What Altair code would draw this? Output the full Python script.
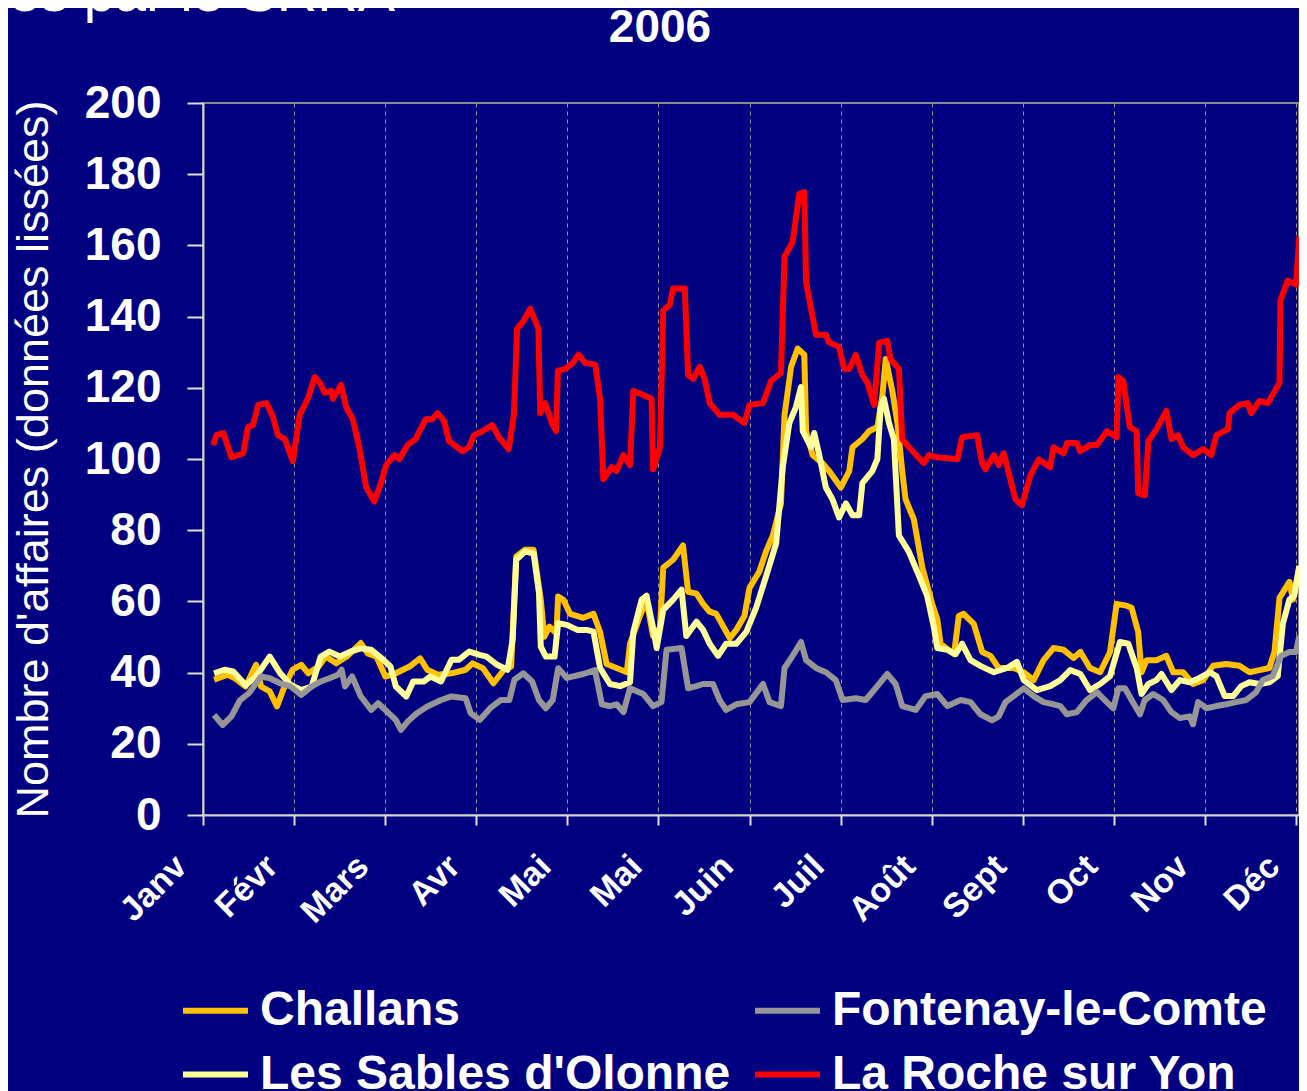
import altair as alt
import pandas as pd

# ---------------- data ----------------
month_labels = ['Janv', 'Févr', 'Mars', 'Avr', 'Mai', 'Mai', 'Juin',
                'Juil', 'Août', 'Sept', 'Oct', 'Nov', 'Déc']
# legend is filled column by column: col 1 = Challans, Les Sables ; col 2 = Fontenay, La Roche
series_names = ["Challans", "Les Sables d'Olonne", "Fontenay-le-Comte", "La Roche sur Yon"]
series_colors = ["#FFC000", "#FFFF99", "#969696", "#FF0000"]

roche_day = [3.4, 4.5, 6.8, 9.5, 13.4, 15, 16.7, 18.4, 21.2, 23.4, 25, 27.3, 30, 32.3, 35, 37.3, 39, 40.6,
             42.8, 43.4, 46.1, 47.8, 50, 52.2, 54.5, 57.2, 59.4, 61.1, 63.9, 65.5, 68.3, 71, 74.4, 76.6,
             78.3, 80.5, 82.2, 86.6, 88.8, 90.5, 93.3, 96.6, 98.8, 102.1, 103.8, 104.9, 107.1, 109.3,
             112.0, 112.6, 114.3, 116.5, 117.9, 118.5, 121, 123.5, 125.4, 127.6, 131, 132.6, 133.7,
             136.5, 138.1, 140.4, 142.6, 143.7, 147, 149.8, 150.3, 152.6, 153.7, 155.9, 157, 160.9,
             162, 163.7, 165.9, 167.5, 169.2, 172.5, 177, 180.8, 182.5, 187, 189.7, 193, 194.2, 196.9,
             199.1, 200.8, 201.4, 204.7, 208, 209.1, 212.4, 214.1, 215.8, 218, 220.2, 221.9, 224.1,
             225.8, 228.5, 229.6, 232.4, 233.5, 236.3, 240.7, 242.4, 245.2, 251.9, 253.5, 258.5, 260.2,
             261.3, 264.1, 265.7, 267.4, 269.6, 271.3, 273.5, 276.3, 279.1, 282.9, 284.0, 287.4, 288.5,
             291.8, 292.9, 296.2, 298.5, 301.8, 305.1, 305.7, 307.3, 309.5, 311.8, 312.3, 314.5, 315.7,
             318.4, 321.7, 323.4, 325.6, 327.3, 330.6, 334, 336.7, 338.4, 342.3, 342.8, 346.1, 348.9,
             350, 352.8, 355.6, 359.5, 359.8, 362.2, 365, 366.1]
roche_val = [103.9, 106.7, 107.3, 100.5, 101.6, 109, 109.5, 115.2, 115.7, 111.8, 106.7, 105.6, 99.4, 112.4,
             116.9, 123, 121.4, 118.6, 119.1, 116.9, 120.8, 114.6, 111.2, 103.3, 92.0, 88.1, 93.2, 98.2,
             101.1, 99.9, 103.9, 105.6, 111.2, 111.2, 112.9, 110.7, 105, 102.2, 103.3, 106.7, 107.8,
             109.5, 106.1, 102.8, 112.4, 136.6, 138.9, 142.2, 136.6, 112.9, 115.7, 110.1, 107.8, 124.8,
             125.3, 127, 129.3, 127, 126.5, 116.9, 94.3, 97.7, 96.6, 101.1, 98.3, 119.1, 118, 116.9,
             97.1, 103.3, 141.7, 143.4, 147.9, 147.9, 123.6, 122.5, 125.9, 122.5, 115.7, 112.4, 112.4,
             110.1, 115.2, 115.7, 121.9, 124.2, 156.9, 160.9, 174.4, 175, 149.6, 134.9, 134.9, 132.7,
             131.5, 125.3, 125.3, 129.3, 123.6, 121.4, 115.2, 132.7, 133.2, 128.1, 125.3, 105.6, 102.8,
             98.8, 101.1, 100.5, 99.9, 106.1, 106.7, 98.8, 97.1, 101.1, 98.3, 101.6, 94.3, 88.7, 87,
             95.4, 99.9, 97.7, 103.3, 101.6, 104.5, 104.5, 102.2, 103.9, 103.9, 107.8, 106.1, 123,
             121.9, 109, 107.8, 90.4, 89.8, 105, 108.4, 113.5, 105.6, 106.7, 103.3, 101.1, 102.8, 101.1,
             106.7, 108.4, 112.9, 115.2, 115.7, 112.9, 116.3, 115.7, 121.4, 144.5, 150.1, 149, 162.5]

challans_day = [3.7, 8.3, 10.7, 14.2, 17.7, 19.4, 22.3, 24.7, 27, 29.9, 32.8, 35.2, 38.6, 41, 44.5, 48,
                52.7, 55, 57.9, 60.9, 64.4, 69, 72.5, 74.9, 78.4, 83, 87.7, 90, 93.5, 97, 100.5, 102.9,
                104.6, 107.5, 110.4, 112.8, 114, 115.7, 118, 118.6, 120.4, 122.6, 127, 130.4, 132.6,
                134.8, 138.1, 141.5, 142.6, 145.9, 148.1, 150.3, 152.6, 153.7, 157, 160.3, 162, 164.8,
                167, 169.2, 171.4, 175.9, 178.1, 180.8, 182.5, 185.8, 188, 190.3, 193, 194.2, 196.4,
                198.6, 200.8, 201.4, 203.6, 206.9, 209.1, 213, 215.8, 216.9, 220.2, 222.4, 225.2, 226.9,
                228, 230.2, 231.9, 233.5, 234.6, 237.4, 240.2, 243.5, 245.2, 246.3, 250.8, 252.4, 254,
                257.4, 260.2, 263, 265.7, 270.7, 274.1, 277.4, 280.7, 284.0, 287.4, 290.7, 293, 296.2,
                299.6, 302.9, 305.1, 308.4, 310.1, 312.3, 313.4, 315.1, 318.4, 321.7, 324, 327.3, 330.6,
                334, 337.3, 341.7, 346.1, 349.5, 352.8, 356.1, 357.8, 359.5, 362.8, 364, 366.1]
challans_val = [38, 39.4, 38.4, 36.1, 42.2, 36.1, 34.7, 30.5, 35.6, 40.8, 42.2, 39.8, 41.7, 44.5, 42.6,
                44.5, 48.3, 45.4, 44.5, 38.9, 39.8, 41.7, 44, 40.8, 39.4, 39.8, 40.8, 42.6, 41.2, 37,
                40.8, 41.7, 72.6, 74.5, 74.5, 60.4, 50.1, 52.9, 51, 61.4, 60.4, 56.5, 55.4, 56.5, 51.4,
                42.4, 41.3, 40.1, 48.1, 55.9, 60.4, 50.3, 52.6, 69.5, 71.7, 75.7, 62.7, 62.2, 59.3, 57.1,
                56.5, 49.7, 52, 55.9, 63.8, 68.4, 74, 78.5, 87.5, 112.4, 125.9, 131, 129.3, 107.8, 101.1,
                98.8, 96.6, 92, 96.6, 103.3, 105.6, 107.8, 109, 118, 128.1, 119.1, 110.1, 96.6, 88.7, 83,
                69.5, 59.3, 55, 48.1, 45.2, 55.9, 56.5, 53.7, 45.8, 44.7, 41.3, 41.3, 40.1, 37.9, 43.5,
                46.9, 46.4, 44.1, 45.8, 41.3, 40.1, 45.8, 59.3, 58.8, 58.2, 51.4, 40.1, 43.5, 43.5, 44.7,
                40.1, 40.1, 36.8, 37.9, 41.9, 42.4, 41.9, 40.1, 40.7, 41.3, 45.8, 61, 65.5, 60.5, 69.5]

sables_day = [3.7, 7.2, 10.1, 14.2, 17.7, 22.3, 25.8, 29.3, 32.8, 36.3, 39.3, 42.2, 45.7, 49.2, 52.7,
              56.2, 59.7, 62.6, 64.4, 67.9, 70.2, 73.7, 76, 79.5, 83, 85.4, 88.9, 92.4, 94.7, 98.2, 101.7,
              103.4, 104.6, 107.5, 110.4, 112.2, 112.8, 114.5, 117.4, 118.6, 121.5, 125, 128, 130.4,
              132.6, 135.9, 139.3, 142.6, 143.7, 146.5, 148.1, 150.3, 151.5, 153.7, 157, 159.8, 161.4,
              164.8, 167, 169.2, 172, 174.7, 178.1, 181.4, 184.7, 188.1, 191.4, 193.6, 195.8, 198,
              199.7, 200.3, 203, 204.1, 205.8, 208, 210.2, 212.4, 214.7, 216.9, 219.1, 220.2, 223.5,
              225.2, 226.3, 227.4, 229.1, 230.7, 232.4, 235.7, 239.1, 241.8, 244.1, 245.2, 248.6, 251.3,
              253.5, 256.3, 259.6, 264.1, 268.5, 271.8, 274.1, 278.5, 282.9, 286.3, 289.6, 293, 296.2,
              299.6, 302.9, 306.2, 309, 311.8, 313.4, 315.7, 318.4, 320.1, 323.4, 326.2, 329.5, 332.8,
              336.2, 338.4, 341.2, 344, 346.7, 349.5, 352.8, 356.1, 358.9, 360.6, 362.8, 364.4, 366.1]
sables_val = [39.8, 40.8, 40.3, 36.5, 38.9, 44.5, 39.8, 36.5, 35.1, 36.1, 44.5, 45.9, 44.5, 45.9, 46.8,
              46.4, 44, 41.7, 36.1, 33.3, 37.5, 37.5, 38.9, 37.5, 43.6, 43.6, 45.9, 45, 44.5, 42.2, 40.8,
              49.2, 71.7, 74, 73.5, 62.3, 47.3, 44.5, 44.5, 53.9, 53.4, 52, 52, 51.5, 41.3, 36.8, 36.2,
              37.3, 51.4, 60.5, 61.6, 52.6, 46.9, 57.6, 60.5, 63.3, 50.3, 54.3, 52, 48.1, 44.7, 48.1,
              48.1, 51.4, 58.2, 67.2, 76.3, 97.7, 110.1, 114.6, 120.2, 107.8, 103.3, 107.3, 101.1, 92,
              88.7, 83.6, 87.5, 84.2, 84.2, 93.2, 96.6, 100, 114.6, 116.9, 110.1, 105.6, 78.5, 74, 67.2,
              61.6, 52.6, 46.9, 46.4, 45.2, 48.1, 43.5, 41.9, 40.1, 41.3, 43, 37.9, 35.1, 36.2, 37.9,
              40.7, 39.6, 35.1, 36.8, 39, 48.6, 48.1, 41.3, 34, 36.8, 37.9, 39.6, 35.1, 37.9, 37.3, 38.5,
              40.1, 39, 33.4, 33.4, 36.2, 37.3, 36.8, 37.3, 39, 53.7, 60.5, 61.6, 70]

fontenay_day = [3.7, 6.6, 9.5, 12.4, 15.3, 19.4, 22.3, 25.8, 29.3, 32.8, 36.3, 39.3, 42.2, 45.1, 46.3,
                47.4, 49.8, 52.7, 56.2, 58.5, 62, 64.4, 66.1, 68.4, 71.4, 74.9, 79.5, 83, 87.7, 89.4,
                92.4, 95.9, 99.4, 102.3, 104, 107, 109.9, 112.2, 114.5, 116.8, 118.6, 121.5, 127, 130.9,
                133.2, 135.9, 138.1, 140.4, 142.6, 147, 150.3, 153.1, 154.8, 159.8, 162, 164.8, 167,
                170.3, 172.5, 174.7, 178.1, 182.5, 187, 189.2, 193, 194.2, 196.9, 199.7, 201.4, 204.7,
                208, 211.3, 213.6, 218, 221.3, 224.6, 228.5, 231.3, 233.5, 238, 241.3, 245.2, 248.6, 253,
                256.3, 259.6, 263.5, 265.7, 268, 270.7, 274.1, 277.4, 280.7, 284, 286.3, 288.5, 291.8,
                295.1, 298.5, 301.8, 304, 305.7, 307.9, 310.1, 312.9, 314.5, 317.3, 320.6, 323.4, 326.2,
                329.5, 330.6, 332.3, 335.1, 338.4, 341.7, 345, 348.4, 351.7, 353.9, 357.2, 360, 362.8,
                365, 366.1]
fontenay_val = [28.1, 25.3, 27.7, 32.3, 34.2, 38.9, 38.4, 37, 36.1, 33.7, 36.1, 37.5, 38.4, 39.4, 40.8,
                36.1, 38.9, 33.3, 29.5, 31.4, 28.6, 26.7, 23.9, 26.3, 28.6, 30.5, 32.3, 33.3, 32.8, 28.6,
                26.7, 30, 32.3, 32.3, 38, 39.8, 37.5, 32.3, 30, 32.3, 41.2, 38.5, 39.6, 40.7, 31.1, 30.6,
                31.1, 28.9, 35.6, 34, 30.6, 31.7, 46.4, 46.9, 35.6, 36.2, 36.8, 36.8, 32.3, 29.5, 31.1,
                31.7, 36.8, 31.7, 30.6, 41.3, 44.7, 48.6, 43.5, 41.3, 40.1, 37.9, 32.3, 32.8, 32.3, 35.6,
                39.6, 36.8, 30.6, 29.5, 33.4, 34, 30.6, 32.3, 31.7, 28.3, 26.6, 27.7, 31.7, 33.4, 35.6,
                33.4, 31.7, 31.1, 30.6, 28.3, 28.9, 32.3, 34.5, 31.7, 30, 35.6, 35.6, 32.3, 28.3, 32.3,
                34, 32.3, 28.9, 27.2, 27.7, 25.5, 31.7, 30, 30.6, 31.1, 31.7, 32.3, 34.5, 37.9, 39, 44.7,
                45.8, 45.8, 50.3]

# ---------------- tables ----------------
frames = []
for name, d, v in [("Challans", challans_day, challans_val),
                   ("Les Sables d'Olonne", sables_day, sables_val),
                   ("Fontenay-le-Comte", fontenay_day, fontenay_val),
                   ("La Roche sur Yon", roche_day, roche_val)]:
    frames.append(pd.DataFrame({"series": name, "day": d, "value": v}))
df = pd.concat(frames, ignore_index=True)

tick_days = [k * 365 / 12 for k in range(13)]
label_js = "[" + ",".join("'" + m + "'" for m in month_labels) + "]"
label_expr = label_js + "[round(datum.value * 12 / 365)]"

FONT = "Liberation Sans"

lines = alt.Chart(df).mark_line(strokeWidth=6, strokeJoin="round", clip=True).encode(
    x=alt.X("day:Q",
            scale=alt.Scale(domain=[0, 366], nice=False, zero=False),
            axis=alt.Axis(values=tick_days, labelExpr=label_expr, title=None,
                          grid=True, gridDash=[4, 4], gridColor="#9A9A9A", gridWidth=1,
                          labelAngle=315, labelAlign="right", labelBaseline="middle",
                          labelFontSize=34, labelFontWeight="bold", labelColor="white",
                          labelFont=FONT, labelOffset=-22, labelPadding=36,
                          labelOverlap=False, labelFlush=False,
                          tickSize=10, tickColor="#E0E0E0", tickWidth=2,
                          domainColor="#D0D0D0", domainWidth=2)),
    y=alt.Y("value:Q",
            scale=alt.Scale(domain=[0, 200], nice=False, zero=True),
            axis=alt.Axis(values=list(range(0, 201, 20)),
                          title="Nombre d'affaires (données lissées)",
                          titleColor="white", titleFontSize=45, titleFontWeight="normal",
                          titleFont=FONT, titleAngle=270, titleX=-170, titleY=356,
                          titleBaseline="middle", titleAlign="center",
                          grid=False, labelFontSize=46, labelFontWeight="bold",
                          labelColor="white", labelFont=FONT, labelPadding=26,
                          labelOverlap=False, labelFlush=False,
                          tickSize=16, tickColor="#E0E0E0", tickWidth=2,
                          domainColor="#D0D0D0", domainWidth=2)),
    color=alt.Color("series:N",
                    scale=alt.Scale(domain=series_names, range=series_colors),
                    legend=alt.Legend(orient="none", legendX=-23, legendY=872, columns=2,
                                      title=None, symbolType="stroke", symbolSize=4225,
                                      symbolStrokeWidth=6, labelFontSize=48,
                                      labelFontWeight="bold", labelColor="white",
                                      labelFont=FONT, labelOffset=9, labelLimit=800,
                                      columnPadding=12, rowPadding=4, padding=0)),
)

notes = pd.DataFrame({"txt": ["2006", "Affaires traitées par le SRRA"],
                      "kind": ["title", "source"]})

title_txt = alt.Chart(notes).transform_filter(alt.datum.kind == "title").mark_text(
    fontSize=46, fontWeight="bold", color="white", font=FONT,
    align="center", baseline="alphabetic"
).encode(text="txt:N", x=alt.value(457), y=alt.value(-61))

source_txt = alt.Chart(notes).transform_filter(alt.datum.kind == "source").mark_text(
    fontSize=56, fontWeight="normal", color="white", font=FONT,
    align="right", baseline="alphabetic"
).encode(text="txt:N", x=alt.value(192), y=alt.value(-92))

chart = alt.layer(lines, title_txt, source_txt).properties(
    width=1096, height=712,
    padding={"left": 195, "top": 95, "right": 0, "bottom": 276},
    autosize=alt.AutoSizeParams(type="none"),
    background="#000080",
).configure_view(stroke="#8A8A8A", strokeWidth=2)

chart.save("out.html", embed_options={"renderer": "svg", "actions": False})
